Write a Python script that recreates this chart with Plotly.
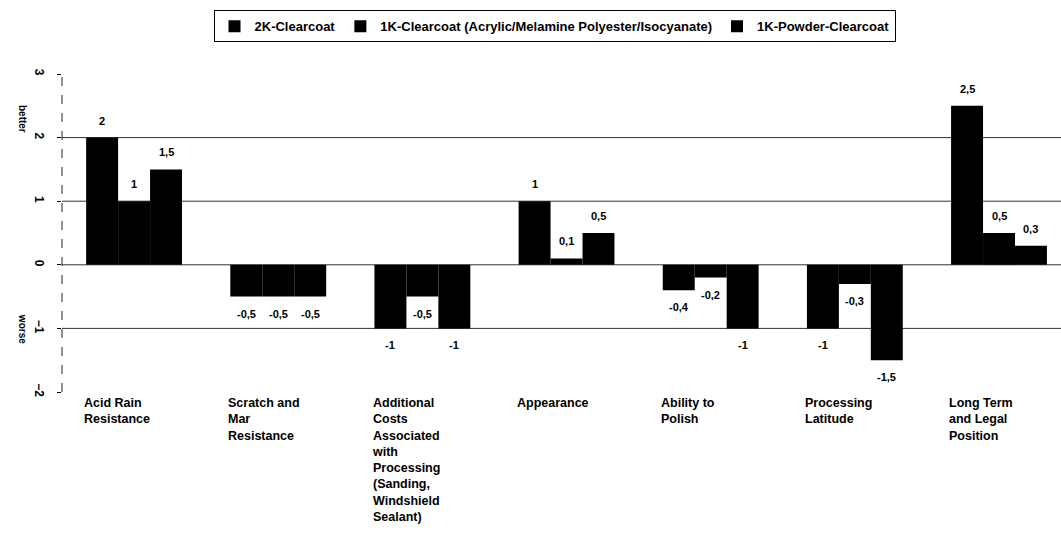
import plotly.graph_objects as go

categories = [
    "Acid Rain<br>Resistance",
    "Scratch and<br>Mar<br>Resistance",
    "Additional<br>Costs<br>Associated<br>with<br>Processing<br>(Sanding,<br>Windshield<br>Sealant)",
    "Appearance",
    "Ability to<br>Polish",
    "Processing<br>Latitude",
    "Long Term<br>and Legal<br>Position",
]
series_names = [
    "2K-Clearcoat",
    "1K-Clearcoat (Acrylic/Melamine Polyester/Isocyanate)",
    "1K-Powder-Clearcoat",
]
clearcoat_2k = [2, -0.5, -1, 1, -0.4, -1, 2.5]
clearcoat_1k = [1, -0.5, -0.5, 0.1, -0.2, -0.3, 0.5]
powder_1k = [1.5, -0.5, -1, 0.5, -1, -1.5, 0.3]
y_ticks = [-2, -1, 0, 1, 2, 3]
grid_values = [2, 1, 0, -1]

FONT = "Liberation Sans"
BARGAP = 0.335


def fmt(v):
    # decimal comma, no trailing zeros
    return ("%g" % v).replace(".", ",")


x_idx = list(range(len(categories)))
all_series = [clearcoat_2k, clearcoat_1k, powder_1k]
n_series = len(all_series)
bar_w = (1 - BARGAP) / n_series

fig = go.Figure()
annotations = []
for k, (name, vals) in enumerate(zip(series_names, all_series)):
    fig.add_trace(go.Bar(
        x=x_idx, y=vals, name=name,
        marker=dict(color="black", line=dict(width=0)),
    ))
    # value labels just beyond the end of each bar
    for i, v in enumerate(vals):
        annotations.append(dict(
            x=i + (k - (n_series - 1) / 2) * bar_w, y=v, xref="x", yref="y",
            text=fmt(v), showarrow=False,
            yanchor="bottom" if v >= 0 else "top",
            yshift=9 if v >= 0 else -9,
            font=dict(family=FONT, size=11, color="black", weight="bold"),
        ))

shapes = []
for g in grid_values:
    shapes.append(dict(type="line", xref="paper", yref="y", x0=0, x1=1, y0=g, y1=g,
                       line=dict(color="#333333", width=1), layer="below"))
shapes.append(dict(type="line", xref="paper", yref="y", x0=0, x1=0, y0=y_ticks[0], y1=y_ticks[-1],
                   line=dict(color="#222222", width=1, dash="dash")))

for i, c in enumerate(categories):
    annotations.append(dict(
        x=i - 0.36, y=y_ticks[0], xref="x", yref="y", text=c, showarrow=False,
        xanchor="left", yanchor="top", align="left", yshift=-2,
        font=dict(family=FONT, size=12.5, color="black", weight="bold"),
    ))
annotations.append(dict(x=-0.047, y=2.3, xref="paper", yref="y", text="better", showarrow=False,
                        textangle=90, font=dict(family=FONT, size=10, color="black", weight="bold")))
annotations.append(dict(x=-0.047, y=-1, xref="paper", yref="y", text="worse", showarrow=False,
                        textangle=90, font=dict(family=FONT, size=10, color="black", weight="bold")))

fig.update_layout(
    width=1061, height=546,
    margin=dict(l=62, r=0, t=74, b=154),
    paper_bgcolor="white", plot_bgcolor="white",
    barmode="group", bargap=BARGAP, bargroupgap=0,
    font=dict(family=FONT, size=11, color="black"),
    showlegend=True,
    legend=dict(
        orientation="h", x=0.493, xanchor="center", y=1.2, yanchor="top",
        bordercolor="black", borderwidth=1, itemwidth=30,
        font=dict(family=FONT, size=13, color="black", weight="bold"),
        tracegroupgap=0,
    ),
    xaxis=dict(range=[-0.5, 6.43], showticklabels=False, showgrid=False, zeroline=False,
               showline=False, ticks=""),
    yaxis=dict(range=[y_ticks[0], y_ticks[-1]], tickvals=y_ticks, tickangle=90,
               showgrid=False, zeroline=False, showline=False,
               ticks="outside", ticklen=4, tickcolor="black", ticklabelstandoff=8,
               tickfont=dict(family=FONT, size=12, color="black", weight="bold")),
    shapes=shapes,
    annotations=annotations,
)

fig.write_html("out.html")
